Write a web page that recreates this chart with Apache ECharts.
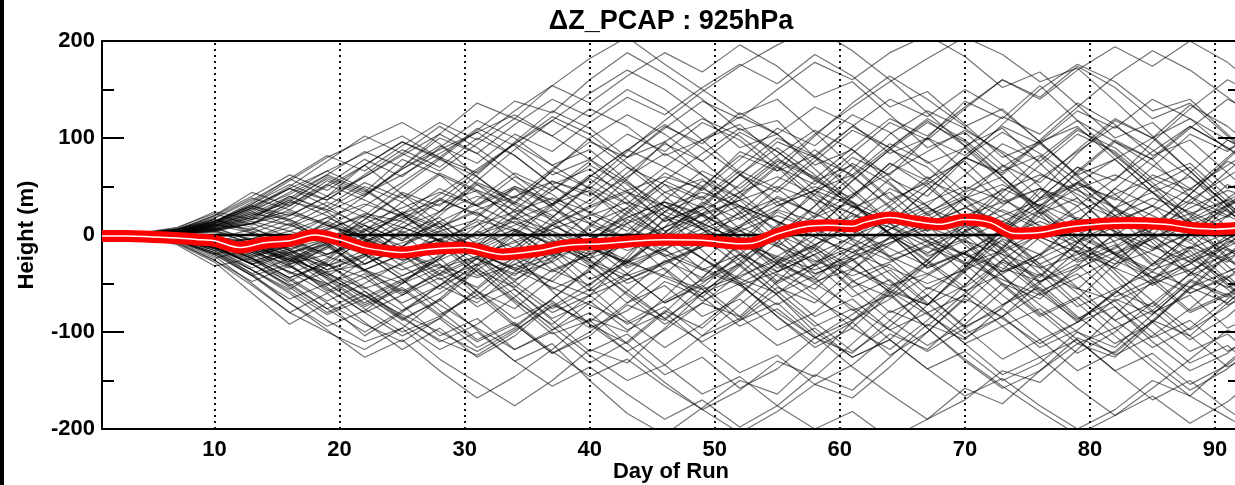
<!DOCTYPE html>
<html><head><meta charset="utf-8">
<script src="https://cdn.jsdelivr.net/npm/echarts@6/dist/echarts.min.js"></script>
<style>html,body{margin:0;padding:0;background:#fff;overflow:hidden}#c{width:1235px;height:485px}</style>
</head><body><div id="c"></div>
<script>
// ---------- data ----------
const titleText = 'ΔZ_PCAP : 925hPa';
const xName = 'Day of Run';
const yName = 'Height (m)';
const xTicks = [10, 20, 30, 40, 50, 60, 70, 80, 90];
const yTicks = [-200, -100, 0, 100, 200];

// sample days of the ensemble members
const days = [1,4,7,10,13,16,19,22,25,28,31,34,37,40,43,46,49,52,55,58,61,64,67,70,73,76,79,82,85,88,91,94];

// ensemble mean (red curve)
const meanDays = [1,3,5,7,9,10,12,14,16,18,20,22,24,25,27,30,33,36,38,41,44,46,49,52,53,55,57,59,61,62,64,66,68,70,72,74,76,78,81,83,86,88,90,92];
const meanVals = [-1,-1,-2,-3,-5,-6,-13,-8,-6,0,-5,-13,-17,-18,-15,-13,-20,-16,-11,-9,-6,-5,-5.5,-9,-8.5,1,8,10,9,13,18,14,11,16,13,1.5,2.5,7.5,11.5,12.5,11,7.5,6,7.5];

// ensemble members (height anomaly, m)
const s01 = [0,1,-3,-9,-18,-12,5,22,14,-6,-25,-40,-28,-5,18,34,22,-4,-30,-48,-35,-10,15,38,52,30,5,-20,-44,-30,-8,12];
const s02 = [0,-1,-2,-6,-14,-26,-38,-30,-12,8,26,40,55,44,20,-2,-24,-45,-60,-42,-18,6,28,12,-10,-32,-55,-68,-50,-26,-4,18];
const s03 = [0,0,2,7,16,24,12,-4,-20,-34,-22,-6,10,30,46,60,48,28,6,-14,-36,-52,-40,-18,4,26,48,62,44,22,0,-20];
const s04 = [0,1,-1,-5,-12,-24,-40,-55,-42,-26,-8,-22,-38,-20,2,-16,-34,-50,-30,-10,12,34,56,40,18,-6,-28,-14,6,28,46,34];
const s05 = [0,-1,-4,-10,-6,4,18,32,20,2,-18,-36,-24,-8,-26,-44,-60,-44,-22,0,20,8,-12,-30,-16,4,24,42,58,40,20,2];
const s06 = [0,0,3,9,20,34,26,10,-6,14,32,50,36,16,-4,-22,-8,10,30,46,30,12,-8,-28,-46,-62,-44,-24,-4,16,36,54];
const s07 = [0,1,-2,-7,-16,-8,-22,-36,-50,-34,-14,6,-10,-28,-46,-30,-12,8,26,14,-4,-22,-40,-58,-40,-20,0,20,38,24,6,-12];
const s08 = [0,-1,1,4,-4,-14,-4,12,28,44,30,12,-6,-24,-10,8,26,44,60,42,22,2,-18,-4,14,32,16,-2,-20,-38,-54,-40];
const s09 = [0,0,-3,-11,-24,-38,-50,-36,-20,-4,-18,-34,-48,-62,-46,-28,-10,8,-8,-26,-42,-28,-10,8,26,10,-8,-26,-44,-60,-44,-26];
const s10 = [0,1,4,11,6,-6,-20,-8,8,24,40,26,10,28,44,30,12,-6,-24,-40,-26,-8,10,28,46,62,46,28,10,-8,-26,-42];
const s11 = [0,0,-1,-4,-10,-2,10,-4,-18,-32,-44,-30,-14,2,18,34,20,4,-12,-28,-12,6,24,40,24,6,-12,-30,-16,2,20,38];
const s12 = [0,-1,-5,-13,-26,-18,-6,-20,-36,-22,-6,10,26,12,-4,-20,-36,-52,-38,-20,-2,16,34,50,36,18,0,-18,-36,-22,-4,14];
const s13 = [0,1,2,6,14,4,-8,6,22,36,22,6,-10,-26,-42,-28,-12,4,20,6,-10,-26,-12,4,20,36,52,38,20,2,-16,-32];
const s14 = [0,0,-2,-8,-4,-16,-30,-44,-30,-14,2,18,4,-12,-28,-14,2,18,34,50,34,16,-2,-20,-38,-24,-6,12,30,14,-4,-22];
const s15 = [0,1,3,5,12,22,10,-2,-16,-4,10,24,38,24,8,-8,6,22,38,22,4,-14,-32,-18,-2,14,-2,-20,-38,-54,-38,-20];
const s16 = [0,-1,-3,-8,-18,-30,-20,-6,8,-6,-20,-34,-20,-4,12,28,44,30,14,-2,-18,-34,-50,-36,-18,0,18,4,-12,-28,-12,6];
const s17 = [0,0,1,-2,-8,-18,-10,4,18,32,46,32,16,0,-16,-2,14,30,14,-2,-18,-4,12,28,14,-2,-18,-34,-50,-36,-20,-4];
const s18 = [0,1,-2,-6,-14,-6,6,20,8,-6,-20,-8,6,20,34,20,6,-8,-22,-36,-22,-8,6,20,34,48,34,18,2,-14,2,18];
const s19 = [0,-1,2,8,18,10,-2,-14,-26,-14,0,14,0,-14,-28,-42,-56,-42,-26,-10,6,22,8,-6,-20,-34,-20,-6,8,22,36,22];
const s20 = [0,0,-2,-5,-10,-20,-32,-20,-8,4,16,4,-8,-20,-6,8,22,36,50,36,22,8,-6,-20,-34,-48,-34,-18,-2,14,30,46];

const m01 = [0,1,-4,-12,-30,-48,-26,4,34,62,44,18,-14,-46,-28,8,48,86,70,34,-6,-40,-72,-52,-12,26,66,98,78,40,8,-24];
const m02 = [0,-1,3,11,26,42,62,46,22,-8,-38,-68,-92,-62,-24,18,-2,-32,-62,-100,-126,-108,-72,-34,8,48,30,-8,-48,-80,-62,-30];
const m03 = [0,0,-2,-8,-22,-12,14,40,68,88,106,82,52,22,58,96,120,102,72,40,8,-24,-56,-34,6,44,84,118,100,66,30,0];
const m04 = [0,2,6,16,4,-16,-40,-62,-86,-108,-124,-100,-70,-92,-112,-80,-44,-8,-30,-62,-96,-118,-88,-52,-14,24,-4,-40,-78,-108,-84,-50];
const m05 = [0,-1,-6,-18,-36,-56,-32,-2,24,8,-20,-46,-26,8,40,70,50,20,-12,18,56,88,116,96,60,22,-18,-56,-38,0,38,62];
const m06 = [0,1,5,13,32,56,80,98,116,94,60,30,0,-30,-62,-92,-70,-40,-8,30,68,104,128,110,84,50,16,-20,-52,-30,0,30];
const m07 = [0,0,-3,-10,-4,12,-10,-36,-60,-40,-10,20,46,72,52,20,-16,-50,-84,-116,-96,-60,-26,10,44,80,110,84,50,14,-22,-56];
const m08 = [0,-2,-8,-26,-52,-80,-100,-118,-96,-66,-32,4,-20,-54,-88,-116,-92,-60,-28,6,40,74,50,18,-16,-50,-84,-112,-90,-56,-22,12];
const m09 = [0,1,2,5,-10,-26,-6,20,50,78,60,32,66,100,124,104,76,44,12,-22,-56,-88,-114,-92,-58,-22,14,48,80,112,90,60];
const m10 = [0,-1,-4,-16,-40,-70,-94,-78,-50,-20,10,40,20,-10,-40,-70,-50,-20,10,42,74,52,22,-10,-42,-72,-100,-124,-104,-76,-44,-14];
const m11 = [0,1,4,10,22,16,0,-20,-46,-72,-96,-118,-98,-70,-40,-10,22,52,82,108,88,60,30,0,-30,-60,-88,-60,-30,0,32,58];
const m12 = [0,0,-1,-6,-16,-32,-52,-26,6,36,66,94,118,98,70,40,10,-20,-50,-30,0,30,60,30,0,-30,-60,-88,-116,-96,-66,-34];
const m13 = [0,1,3,8,18,36,20,-6,-32,-56,-30,0,30,60,88,114,90,62,34,4,-26,-56,-30,4,38,72,104,86,54,20,-14,-44];
const m14 = [0,-1,-5,-14,-30,-20,-44,-70,-50,-24,-58,-92,-122,-100,-70,-40,-8,24,56,88,60,30,0,-30,-62,-92,-122,-100,-70,-40,-10,20];
const m15 = [0,0,2,6,12,30,50,72,42,12,-18,-48,-76,-56,-28,2,32,62,90,62,32,2,-28,-58,-86,-112,-90,-60,-30,0,30,60];
const m16 = [0,1,-3,-10,-26,-46,-70,-92,-110,-86,-56,-26,4,-26,-56,-86,-60,-30,0,30,60,90,118,92,60,28,-4,-36,-68,-98,-74,-44];
const m17 = [0,-1,-2,-4,6,20,40,60,82,104,84,56,28,0,28,56,84,110,86,58,30,2,-26,-54,-26,2,30,58,86,112,90,66];
const m18 = [0,1,3,7,-6,-22,-42,-22,2,-30,-62,-94,-66,-34,0,34,6,-26,-58,-90,-120,-94,-62,-30,4,38,70,42,12,-20,-52,-84];
const m19 = [0,0,-4,-12,-30,-52,-76,-100,-78,-52,-24,4,32,58,32,4,-24,-52,-80,-106,-82,-54,-26,2,30,58,86,112,88,60,32,4];
const m20 = [0,2,6,14,30,48,66,84,102,80,52,24,-4,-32,-60,-86,-110,-88,-60,-32,-4,24,52,80,106,84,56,28,0,-28,-56,-82];
const m21 = [0,-1,-3,-9,-20,-8,-30,-54,-78,-60,-36,-12,12,36,60,84,62,38,14,-10,-34,-58,-82,-106,-84,-60,-36,-12,12,36,60,84];
const m22 = [0,1,2,4,12,26,10,-8,16,42,68,94,72,48,24,0,-24,-48,-72,-50,-26,-2,22,46,70,94,118,96,72,48,24,0];
const m23 = [0,0,-1,-3,-12,-26,-44,-62,-82,-100,-120,-98,-74,-50,-26,-2,22,-2,-26,-50,-74,-98,-120,-96,-72,-48,-24,0,24,48,72,96];
const m24 = [0,-1,1,5,16,32,52,36,18,0,-18,-36,-54,-72,-90,-68,-46,-24,-2,20,42,64,86,108,86,64,42,20,-2,-24,-46,-68];
const m25 = [0,1,-1,-6,-4,8,24,42,62,84,106,124,102,78,54,30,6,-18,-42,-66,-88,-66,-42,-18,6,30,54,78,100,120,98,76];

const L01 = [0,1,-4,-14,-36,-60,-88,-110,-96,-128,-152,-176,-150,-118,-132,-96,-60,-28,8,46,80,62,100,138,120,154,118,82,50,70,34,-4];
const L02 = [0,-1,4,14,34,58,40,72,96,78,108,138,126,160,188,166,140,108,118,80,44,12,-22,-6,-42,-80,-112,-96,-130,-160,-138,-104];
const L03 = [0,0,-3,-12,-30,-54,-80,-62,-88,-66,-98,-130,-112,-150,-184,-206,-178,-150,-164,-128,-90,-58,-72,-36,0,38,70,56,96,130,160,140];
const L04 = [0,1,3,10,24,44,66,48,22,-6,14,-22,-58,-92,-120,-98,-70,-84,-48,-12,24,58,40,78,114,150,176,158,128,140,104,70];
const L05 = [0,-1,-2,-6,-18,-34,-12,16,44,30,62,96,128,110,80,96,62,30,-4,-40,-24,-60,-96,-130,-158,-140,-112,-126,-90,-54,-20,10];
const L06 = [0,0,2,8,20,38,62,86,70,104,136,120,154,182,204,176,150,124,140,106,70,36,54,16,-20,-56,-90,-74,-110,-140,-122,-90];
const L07 = [0,1,-2,-8,-24,-44,-30,-58,-84,-110,-92,-64,-36,-52,-20,16,50,82,66,102,136,164,140,112,130,96,60,26,-8,-42,-24,-58];
const L08 = [0,-1,-5,-18,-42,-70,-98,-126,-108,-140,-168,-146,-118,-86,-100,-64,-28,8,40,22,56,88,70,36,2,-34,-70,-104,-136,-166,-188,-210];
const L09 = [0,0,3,12,28,50,76,102,84,112,90,62,32,46,12,-22,-56,-88,-70,-104,-136,-164,-190,-170,-140,-152,-118,-82,-48,-14,20,54];
const L10 = [0,1,0,-4,-14,-28,-8,16,42,24,56,88,118,146,170,150,122,90,104,68,34,0,-34,-18,-52,-84,-66,-30,6,42,78,112];
const L11 = [0,-1,-3,-10,-24,-44,-68,-50,-28,-6,-38,-70,-102,-88,-120,-152,-180,-204,-182,-154,-168,-136,-100,-64,-28,-44,-8,28,62,46,80,114];
const L12 = [0,0,1,3,-8,-22,-42,-66,-48,-24,4,34,18,52,86,118,148,174,196,214,190,160,126,92,110,74,38,2,-32,-16,-50,-84];
const L13 = [0,1,4,12,28,48,30,6,-20,-46,-30,-62,-94,-124,-150,-134,-104,-72,-40,-56,-22,12,46,80,64,98,132,164,190,170,142,112];
const L14 = [0,-1,-1,-5,-16,-32,-54,-80,-104,-86,-116,-96,-66,-36,-6,24,8,40,72,104,132,158,182,204,186,158,172,138,102,66,30,-6];
const L15 = [0,0,-2,-9,-24,-10,8,30,54,80,64,94,122,104,74,44,58,24,-10,-44,-78,-62,-96,-128,-156,-182,-206,-186,-158,-128,-98,-112];

const n01 = [0,-2,-9,-28,-60,-92,-70,-104,-80,-52,-70,-38,-6,-24,12,44,28,62,96,80,112,90,58,76,40,8,-26,-10,-44,-78,-60,-92];
const n02 = [0,2,8,22,10,34,60,44,78,62,30,48,14,-18,-2,-36,-68,-50,-84,-112,-90,-124,-100,-66,-84,-50,-16,-34,0,34,18,52];
const n03 = [0,-1,-5,-20,-42,-30,-58,-40,-72,-104,-86,-118,-100,-132,-110,-78,-96,-62,-28,-46,-12,22,4,38,72,54,88,120,100,134,112,80];
const n04 = [0,1,6,18,38,26,52,78,60,90,118,100,72,88,56,24,40,6,-28,-12,-46,-80,-62,-96,-128,-108,-140,-120,-88,-104,-70,-36];
const n05 = [0,-1,-7,-24,-14,-40,-24,6,-12,20,52,34,66,48,80,112,94,126,104,72,88,54,20,38,4,-30,-12,-46,-80,-62,-96,-78];
const n06 = [0,1,4,14,30,16,-8,-36,-20,-52,-34,-66,-98,-80,-112,-144,-126,-158,-138,-106,-122,-88,-54,-70,-36,-2,-18,16,50,32,66,98];
const n07 = [0,0,-6,-22,-50,-80,-60,-90,-118,-96,-126,-104,-72,-90,-58,-26,-44,-10,24,6,40,74,56,90,122,104,136,114,82,98,64,30];
const n08 = [0,-1,3,16,2,-20,-4,-30,-12,14,-4,26,56,40,70,52,20,36,2,-32,-14,-48,-80,-62,-94,-76,-108,-140,-122,-154,-134,-102];
const n09 = [0,1,-2,-14,-34,-18,-46,-72,-54,-82,-62,-30,-48,-16,16,-2,30,62,44,76,108,90,120,98,66,82,48,14,30,-4,-38,-20];
const n10 = [0,0,5,20,44,30,56,40,70,100,84,114,140,122,150,130,98,114,80,46,62,28,-6,10,-24,-58,-40,-74,-106,-88,-120,-100];
const n11 = [0,-2,-10,-32,-24,-50,-76,-58,-86,-68,-36,-54,-22,10,-8,24,56,38,70,52,84,116,98,130,160,142,174,152,120,136,102,68];
const n12 = [0,1,2,8,-6,-26,-10,-38,-62,-44,-74,-56,-88,-120,-102,-134,-164,-146,-176,-200,-182,-210,-190,-158,-174,-140,-106,-122,-88,-54,-70,-36];
const n13 = [0,0,-4,-16,-8,-30,-14,10,-6,24,54,38,68,96,80,110,138,120,150,178,160,188,206,184,152,168,134,100,116,82,48,64];
const n14 = [0,1,7,24,16,40,24,-4,-26,-10,-42,-24,-56,-38,-70,-52,-84,-66,-98,-80,-48,-64,-30,4,-14,20,54,36,70,104,86,118];
const n15 = [0,-1,-3,-12,-30,-52,-38,-64,-46,-78,-108,-90,-120,-146,-128,-156,-180,-160,-130,-146,-112,-78,-94,-60,-26,-42,-8,26,8,42,76,58];
const n16 = [0,1,4,10,26,48,36,62,88,70,100,82,52,68,36,4,20,-14,-48,-30,-64,-46,-80,-112,-94,-126,-108,-140,-170,-150,-180,-206];
const n17 = [0,0,-1,-7,2,-16,-36,-22,4,-12,18,48,30,60,88,70,98,122,104,132,114,84,100,66,32,48,14,-20,-4,-38,-72,-54];
const n18 = [0,-1,-8,-26,-48,-32,-56,-80,-62,-36,-54,-22,10,-8,24,56,38,70,100,82,112,140,122,150,128,96,112,78,44,60,26,-8];
const n19 = [0,1,3,12,28,14,-6,10,-16,-42,-24,-56,-86,-68,-98,-80,-112,-142,-124,-154,-134,-102,-118,-84,-50,-66,-32,2,-16,18,52,34];
const n20 = [0,0,2,6,18,36,58,42,68,92,74,104,86,116,142,124,152,176,156,186,164,132,148,114,80,96,62,28,44,10,-24,-6];
const n21 = [0,-1,-4,-16,-36,-58,-82,-66,-92,-118,-100,-130,-156,-136,-164,-190,-170,-198,-176,-144,-160,-126,-92,-108,-74,-40,-56,-22,12,-6,28,62];
const n22 = [0,1,5,16,8,-10,-32,-16,-42,-24,4,-14,18,50,32,64,46,78,110,92,124,106,74,90,56,22,38,4,-30,-12,-46,-80];
const n23 = [0,0,-2,-10,-22,-8,14,-2,22,48,30,60,42,12,28,-4,-36,-20,-52,-84,-66,-98,-80,-112,-144,-126,-158,-186,-166,-194,-172,-140];
const n24 = [0,-1,2,9,22,40,26,50,34,8,24,-6,-36,-20,-50,-34,-64,-94,-76,-106,-88,-56,-72,-38,-4,-20,14,48,30,64,98,80];
const n25 = [0,1,-3,-12,-28,-14,-36,-20,-46,-30,-58,-86,-68,-96,-78,-48,-64,-32,0,-16,16,48,30,62,94,76,108,90,58,74,40,6];
const n26 = [0,0,4,14,32,52,36,60,84,66,94,120,102,130,112,82,98,64,30,46,12,-22,-6,-40,-72,-54,-86,-68,-100,-132,-114,-146];
const n27 = [0,-2,-6,-20,-10,-28,-12,-36,-58,-40,-66,-48,-16,-34,-2,30,12,44,76,58,90,120,102,132,160,140,170,194,174,200,178,146];
const n28 = [0,1,1,4,12,-2,18,2,-20,-4,-32,-16,10,-8,22,52,36,66,48,18,34,0,-34,-16,-50,-82,-64,-96,-78,-46,-62,-28];
const n29 = [0,0,-5,-18,-40,-24,-50,-74,-56,-84,-110,-92,-122,-104,-72,-88,-54,-20,-38,-4,30,12,46,80,62,96,128,110,140,120,88,104];
const n30 = [0,1,6,20,40,62,46,72,96,80,110,92,62,78,46,14,30,-4,-38,-20,-54,-36,-70,-102,-84,-116,-98,-66,-82,-48,-14,-30];
const n31 = [0,-1,-2,-5,-14,-4,-20,-2,22,6,36,64,46,76,104,86,116,98,66,82,48,14,30,-4,-38,-20,-54,-88,-70,-104,-136,-118];
const n32 = [0,1,3,11,2,16,34,18,-4,12,-16,2,-28,-58,-40,-70,-52,-84,-114,-96,-126,-108,-138,-166,-148,-176,-200,-180,-150,-166,-132,-98];
const n33 = [0,0,-3,-10,-24,-44,-28,-6,-24,4,-14,18,50,32,64,94,76,106,86,56,72,38,4,20,-14,-48,-30,-64,-46,-12,-28,6];
const n34 = [0,-1,4,13,30,20,40,24,2,18,-10,6,-22,-4,-34,-16,12,-6,26,56,38,70,100,82,112,94,62,78,44,10,26,-8];
const n35 = [0,1,-1,-8,-20,-38,-60,-44,-70,-52,-24,-42,-10,22,4,36,66,48,78,60,28,44,10,-24,-6,-40,-74,-56,-90,-120,-102,-134];
const n36 = [0,0,2,9,24,10,30,54,38,64,46,16,32,0,-32,-14,-48,-30,-62,-94,-76,-108,-138,-120,-150,-132,-100,-116,-82,-48,-64,-30];
const n37 = [0,-1,-6,-20,-42,-66,-50,-76,-100,-84,-58,-76,-44,-12,-30,2,34,16,48,80,62,94,76,44,60,26,-8,8,-26,-60,-42,-76];
const n38 = [0,1,5,17,36,58,82,66,92,116,98,128,154,136,164,188,168,196,174,142,158,124,90,106,72,38,54,20,-14,2,-32,-66];
const n39 = [0,0,-1,-3,-10,-24,-8,-30,-14,-40,-22,-52,-80,-62,-92,-74,-104,-86,-54,-70,-36,-2,-20,14,48,30,64,96,78,110,140,122];
const n40 = [0,-1,-4,-13,-30,-16,4,-14,12,38,20,50,32,62,44,14,30,-2,-34,-16,-48,-30,-62,-94,-76,-108,-90,-58,-74,-40,-6,-22];

const members = [s01,s02,s03,s04,s05,s06,s07,s08,s09,s10,s11,s12,s13,s14,s15,s16,s17,s18,s19,s20,
  m01,m02,m03,m04,m05,m06,m07,m08,m09,m10,m11,m12,m13,m14,m15,m16,m17,m18,m19,m20,m21,m22,m23,m24,m25,
  L01,L02,L03,L04,L05,L06,L07,L08,L09,L10,L11,L12,L13,L14,L15,
  n01,n02,n03,n04,n05,n06,n07,n08,n09,n10,n11,n12,n13,n14,n15,n16,n17,n18,n19,n20,
  n21,n22,n23,n24,n25,n26,n27,n28,n29,n30,n31,n32,n33,n34,n35,n36,n37,n38,n39,n40];

// ---------- chart ----------
const FONT = '"Liberation Sans", Arial, Helvetica, sans-serif';
const chart = echarts.init(document.getElementById('c'), null, {renderer: 'canvas'});

const series = members.map(function (vals) {
  return {
    type: 'line', xAxisIndex: 0, yAxisIndex: 0,
    data: vals.map(function (v, i) { return [days[i], v]; }),
    symbol: 'none', silent: true, z: 2,
    lineStyle: {color: 'rgba(0,0,0,0.55)', width: 1.2}
  };
});

series.push({
  type: 'line', data: [[1, 0], [92, 0]], symbol: 'none', silent: true, z: 3,
  lineStyle: {color: '#000', width: 2.5},
  markLine: {
    symbol: ['none', 'none'], silent: true, label: {show: false},
    lineStyle: {type: [2, 4], color: '#111', width: 2},
    data: xTicks.map(function (v) { return {xAxis: v}; })
  }
});
const meanData = meanDays.map(function (d, i) { return [d, meanVals[i]]; });
series.push({
  type: 'line', data: meanData, symbol: 'none', silent: true, z: 4, smooth: 0.3,
  lineStyle: {color: '#ff0000', width: 12, cap: 'butt', join: 'round'}
});
series.push({
  type: 'line', data: meanData, symbol: 'none', silent: true, z: 5, smooth: 0.3,
  lineStyle: {color: '#ffffff', width: 1.5}
});

const axisLineStyle = {color: '#000', width: 2};
const labelStyle = {color: '#000', fontSize: 22, fontWeight: 'bold', fontFamily: FONT};

chart.setOption({
  animation: false,
  backgroundColor: '#fff',
  grid: {left: 102, right: -5, top: 41, bottom: 56, containLabel: false, outerBoundsMode: 'none'},
  graphic: [
    {type: 'rect', left: 0, top: 0, shape: {x: 0, y: 0, width: 4, height: 485}, style: {fill: '#000'}},
    {type: 'text', x: 671, y: 22, style: {text: titleText, fill: '#000', fontSize: 27, fontWeight: 'bold', fontFamily: FONT, align: 'center', verticalAlign: 'middle'}}
  ],
  xAxis: [
    {type: 'value', min: 1, max: 92, position: 'bottom',
     axisLine: {show: true, onZero: false, lineStyle: axisLineStyle},
     axisTick: {show: false}, splitLine: {show: false},
     axisLabel: Object.assign({customValues: xTicks, margin: 10}, labelStyle),
     name: xName, nameLocation: 'middle', nameGap: 32, nameMoveOverlap: false,
     nameTextStyle: {color: '#000', fontSize: 22, fontWeight: 'bold', fontFamily: FONT}},
    {type: 'value', min: 1, max: 92, position: 'top',
     axisLine: {show: true, onZero: false, lineStyle: axisLineStyle},
     axisTick: {show: false}, splitLine: {show: false}, axisLabel: {show: false}}
  ],
  yAxis: [
    {type: 'value', min: yTicks[0], max: yTicks[yTicks.length - 1], interval: 100, position: 'left',
     axisLine: {show: true, onZero: false, lineStyle: axisLineStyle},
     axisTick: {show: true, inside: true, length: 22, lineStyle: axisLineStyle},
     minorTick: {show: true, splitNumber: 2, length: 12, lineStyle: axisLineStyle},
     splitLine: {show: false},
     axisLabel: Object.assign({margin: 7}, labelStyle),
     name: yName, nameLocation: 'middle', nameGap: 64, nameRotate: 90, nameMoveOverlap: false,
     nameTextStyle: {color: '#000', fontSize: 22, fontWeight: 'bold', fontFamily: FONT}},
    {type: 'value', min: yTicks[0], max: yTicks[yTicks.length - 1], interval: 100, position: 'right',
     axisLine: {show: true, onZero: false, lineStyle: axisLineStyle},
     axisTick: {show: true, inside: true, length: 22, lineStyle: axisLineStyle},
     minorTick: {show: true, splitNumber: 2, length: 12, lineStyle: axisLineStyle},
     splitLine: {show: false}, axisLabel: {show: false}}
  ],
  series: series
});
</script>
</body></html>
